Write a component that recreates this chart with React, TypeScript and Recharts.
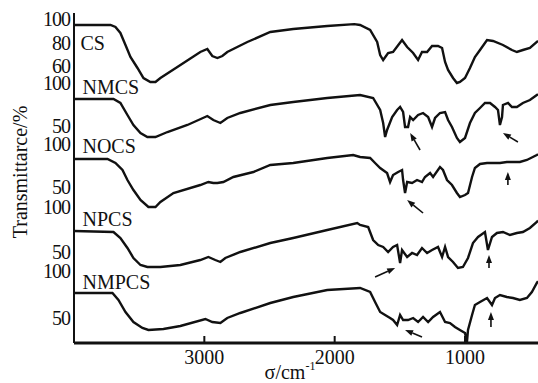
import React from 'react';
import { LineChart, Line, XAxis, YAxis, ReferenceLine, ReferenceDot } from 'recharts';

const FONT = '"Liberation Serif", "Times New Roman", serif';
const INK = '#111';

// wavenumber (cm-1) / transmittance (%)
const csSigma = [4000, 3797, 3720, 3682, 3644, 3605, 3567, 3513, 3467, 3414, 3375, 3337, 3207, 3031, 2977, 2939, 2900, 2862, 2824, 2670, 2494, 2318, 2057, 1850, 1805, 1728, 1674, 1651, 1628, 1590, 1552, 1483, 1444, 1398, 1360, 1330, 1291, 1253, 1207, 1176, 1153, 1130, 1092, 1062, 1039, 1000, 962, 924, 885, 831, 785, 709, 640, 602, 556, 502, 449, 440];
const csT = [94.9, 94.9, 94.9, 93.2, 88.1, 77.9, 67.7, 58.3, 49.8, 46.4, 46.4, 49.8, 59.1, 71.9, 74.5, 68.5, 66.8, 68.5, 71.9, 80.4, 88.9, 91.5, 94.0, 95.7, 94.9, 90.6, 80.4, 69.4, 65.1, 71.1, 71.9, 82.1, 76.2, 71.1, 65.1, 71.9, 71.9, 77.0, 77.0, 75.3, 63.4, 56.6, 49.8, 45.5, 46.4, 49.8, 58.3, 67.7, 73.6, 82.1, 81.3, 77.9, 73.6, 71.9, 73.6, 75.3, 80.4, 81.5];

const nmcsSigma = [4000, 3697, 3644, 3590, 3544, 3490, 3437, 3375, 3283, 3130, 2977, 2931, 2877, 2824, 2724, 2494, 2318, 2057, 1805, 1705, 1651, 1628, 1613, 1598, 1559, 1521, 1498, 1475, 1460, 1437, 1421, 1398, 1360, 1322, 1283, 1253, 1230, 1192, 1153, 1130, 1100, 1062, 1039, 1000, 962, 924, 885, 847, 808, 770, 747, 732, 716, 709, 670, 640, 602, 556, 502, 449, 440];
const nmcsT = [81.4, 81.4, 76.7, 62.8, 51.2, 41.9, 37.2, 37.2, 43.0, 51.2, 61.6, 57.0, 53.5, 59.3, 65.1, 74.4, 77.9, 82.6, 86.0, 82.6, 68.6, 53.5, 37.2, 45.3, 60.5, 68.6, 72.1, 66.3, 48.8, 48.8, 60.5, 57.0, 62.8, 65.1, 60.5, 48.8, 59.3, 65.1, 66.3, 57.0, 48.8, 36.0, 31.4, 36.0, 53.5, 65.1, 70.9, 76.7, 76.7, 72.1, 68.6, 51.2, 60.5, 74.4, 76.7, 72.1, 72.1, 76.7, 80.2, 86.0, 87.0];

const nocsSigma = [4000, 3743, 3682, 3628, 3590, 3544, 3490, 3429, 3375, 3337, 3237, 3031, 2969, 2931, 2900, 2854, 2777, 2624, 2494, 2318, 2057, 1858, 1805, 1728, 1690, 1651, 1598, 1575, 1552, 1513, 1483, 1475, 1460, 1444, 1406, 1368, 1330, 1307, 1268, 1245, 1192, 1169, 1138, 1100, 1062, 1039, 1000, 977, 946, 924, 885, 831, 785, 732, 679, 632, 579, 525, 449, 440];
const nocsT = [82.6, 82.6, 77.9, 69.8, 58.1, 46.5, 34.9, 26.7, 26.7, 32.6, 43.0, 52.3, 55.8, 54.7, 54.7, 55.8, 61.6, 67.4, 75.6, 77.9, 83.7, 87.2, 84.9, 83.7, 77.9, 72.1, 66.3, 55.8, 64.0, 67.4, 69.8, 58.1, 43.0, 55.8, 54.7, 58.1, 55.8, 61.6, 66.3, 61.6, 73.3, 69.8, 58.1, 52.3, 43.0, 38.4, 40.7, 43.0, 61.6, 72.1, 76.7, 77.9, 77.9, 77.9, 79.1, 79.1, 79.1, 81.4, 87.2, 88.0];

const npcsSigma = [4000, 3697, 3644, 3590, 3544, 3490, 3437, 3337, 3184, 3031, 2969, 2916, 2877, 2839, 2724, 2494, 2318, 2057, 1827, 1805, 1743, 1705, 1666, 1628, 1590, 1552, 1521, 1498, 1483, 1444, 1406, 1368, 1330, 1291, 1253, 1207, 1176, 1153, 1130, 1092, 1054, 1016, 977, 939, 900, 847, 824, 793, 755, 709, 655, 602, 556, 502, 449, 440];
const npcsT = [73.3, 72.2, 65.6, 54.4, 43.3, 35.6, 33.3, 33.3, 35.6, 41.1, 44.4, 41.1, 38.9, 43.3, 50.0, 60.0, 65.6, 74.4, 82.2, 80.0, 77.8, 63.3, 57.8, 55.6, 50.0, 55.6, 57.8, 37.8, 52.2, 44.4, 48.9, 46.7, 54.4, 48.9, 52.2, 55.6, 44.4, 55.6, 44.4, 38.9, 32.2, 33.3, 43.3, 60.0, 66.7, 72.2, 52.2, 66.7, 71.1, 72.2, 68.9, 71.1, 72.2, 76.7, 83.3, 85.0];

const nmpcsSigma = [4000, 3705, 3659, 3605, 3544, 3475, 3429, 3314, 3184, 2992, 2939, 2877, 2824, 2724, 2494, 2318, 2057, 1805, 1728, 1690, 1651, 1613, 1575, 1552, 1521, 1498, 1475, 1437, 1398, 1360, 1322, 1283, 1245, 1192, 1153, 1115, 1077, 1039, 1000, 985, 977, 946, 924, 885, 831, 793, 770, 732, 679, 632, 579, 525, 487, 449, 440];
const nmpcsT = [76.6, 76.6, 69.1, 56.4, 45.7, 39.4, 37.2, 38.3, 41.5, 48.9, 45.7, 44.7, 50.0, 55.3, 66.0, 72.3, 79.8, 81.9, 77.7, 67.0, 56.4, 53.2, 50.0, 47.9, 42.6, 53.2, 47.9, 47.9, 50.0, 45.7, 51.1, 45.7, 51.1, 56.4, 45.7, 44.7, 40.4, 37.2, 34.0, 24.5, 37.2, 53.2, 63.8, 67.0, 71.3, 63.8, 71.3, 74.5, 72.3, 71.3, 69.1, 71.3, 77.7, 87.2, 89.0];

const seriesNames = ['CS', 'NMCS', 'NOCS', 'NPCS', 'NMPCS'];
const seriesSigma = [csSigma, nmcsSigma, nocsSigma, npcsSigma, nmpcsSigma];
const seriesT = [csT, nmcsT, nocsT, npcsT, nmpcsT];
const seriesTicks = [[100, 80, 60], [100, 50], [100, 50], [100, 50], [100, 50]];
const xTicks = [3000, 2000, 1000];

// stacking: where each spectrum's 100% sits on the shared axis, and units per %
const stackTop = [324, 260, 199, 136, 72];
const stackScale = [1.175, 0.86, 0.86, 0.9, 0.94];
const nameAt = [[3950, 300], [3935, 256], [3935, 197], [3935, 124], [3935, 61]];

// arrows pointing at bands: [tail sigma, tail y, head sigma, head y]
const arrows = [
  [1345, 193, 1421, 210],
  [594, 201, 709, 210],
  [1322, 130, 1444, 143],
  [671, 158, 671, 171],
  [1690, 66, 1536, 75],
  [816, 75, 816, 88],
  [1330, 6, 1460, 13],
  [801, 16, 801, 31],
];

const toY = (i: number, t: number) => Math.round((stackTop[i] - (100 - t) * stackScale[i]) * 10) / 10;

const seriesData = seriesSigma.map((sig, i) =>
  sig.map((s, k) => ({ sigma: s, y: toY(i, seriesT[i][k]) }))
);

// shared axis ticks, highest first, each with its own percent label
const yTickRows = seriesTicks
  .flatMap((ticks, i) => ticks.map((t) => ({ pos: toY(i, t), text: String(t) })))
  .sort((a, b) => b.pos - a.pos);
const yTicks = yTickRows.map((r) => r.pos);

const XTick = (props: any) => {
  const { x, y, payload } = props;
  return (
    <g>
      <line x1={x} y1={y} x2={x} y2={y - 7} stroke={INK} strokeWidth={2} />
      <text x={x} y={y + 21} textAnchor="middle" fontSize={20} fontFamily={FONT} fill={INK}>
        {payload.value}
      </text>
    </g>
  );
};

const YTick = (props: any) => {
  const { x, y, index } = props;
  const row = yTickRows[index];
  return (
    <text x={x} y={y} dy="0.36em" textAnchor="end" fontSize={20} fontFamily={FONT} fill={INK} letterSpacing={-1}>
      {row ? row.text : ''}
    </text>
  );
};

const YTitle = (props: any) => {
  const vb = props.viewBox || { x: 14, y: 13, width: 60, height: 330 };
  const cx = 20;
  const cy = vb.y + vb.height / 2 - 6;
  return (
    <text x={cx} y={cy} transform={`rotate(-90 ${cx} ${cy})`} textAnchor="middle" dominantBaseline="central"
      fontSize={20} fontFamily={FONT} fill={INK}>
      Transmittarce/%
    </text>
  );
};

const XTitle = (props: any) => {
  const vb = props.viewBox || { x: 74, y: 343, width: 464, height: 40 };
  const cx = vb.x + vb.width / 2 - 16;
  return (
    <text x={cx} y={vb.y + 36} textAnchor="middle" fontSize={20} fontFamily={FONT} fill={INK}>
      <tspan>σ/cm</tspan>
      <tspan dy={-9} fontSize={12}>-1</tspan>
    </text>
  );
};

const Arrow = (props: any) => {
  const { x1, y1, x2, y2 } = props;
  const a = Math.atan2(y2 - y1, x2 - x1);
  const L = 8;
  const W = 3;
  const bx = x2 - L * Math.cos(a);
  const by = y2 - L * Math.sin(a);
  const pts = `${x2},${y2} ${bx - W * Math.sin(a)},${by + W * Math.cos(a)} ${bx + W * Math.sin(a)},${by - W * Math.cos(a)}`;
  return (
    <g>
      <line x1={x1} y1={y1} x2={bx} y2={by} stroke={INK} strokeWidth={1.6} />
      <polygon points={pts} fill={INK} />
    </g>
  );
};

export default function App() {
  return (
    <div style={{ position: 'absolute', left: 0, top: 0, background: '#fff' }}>
      <LineChart width={538} height={383} margin={{ top: 13, right: 0, bottom: 0, left: 14 }}>
        <XAxis
          dataKey="sigma"
          type="number"
          domain={[440, 4000]}
          reversed
          allowDataOverflow
          ticks={xTicks}
          interval={0}
          height={40}
          tickSize={0}
          tickMargin={0}
          tick={<XTick />}
          axisLine={{ stroke: INK, strokeWidth: 3 }}
          label={<XTitle />}
        />
        <YAxis
          type="number"
          domain={[0, 330]}
          allowDataOverflow
          ticks={yTicks}
          interval={0}
          minTickGap={0}
          width={60}
          tickSize={0}
          tickMargin={4}
          tickLine={false}
          tick={<YTick />}
          axisLine={{ stroke: INK, strokeWidth: 2 }}
          label={<YTitle />}
        />
        {seriesData.map((d, i) => (
          <Line
            key={seriesNames[i]}
            data={d}
            dataKey="y"
            type="linear"
            stroke={INK}
            strokeWidth={2.4}
            dot={false}
            isAnimationActive={false}
          />
        ))}
        {seriesNames.map((name, i) => (
          <ReferenceDot
            key={'n' + name}
            x={nameAt[i][0]}
            y={nameAt[i][1]}
            ifOverflow="visible"
            shape={(p: any) => (
              <text x={p.cx} y={p.cy} dominantBaseline="central" fontSize={20} fontFamily={FONT} fill={INK}>
                {name}
              </text>
            )}
          />
        ))}
        {arrows.map((a, i) => (
          <ReferenceLine
            key={'a' + i}
            segment={[{ x: a[0], y: a[1] }, { x: a[2], y: a[3] }]}
            ifOverflow="visible"
            shape={<Arrow />}
          />
        ))}
      </LineChart>
    </div>
  );
}
